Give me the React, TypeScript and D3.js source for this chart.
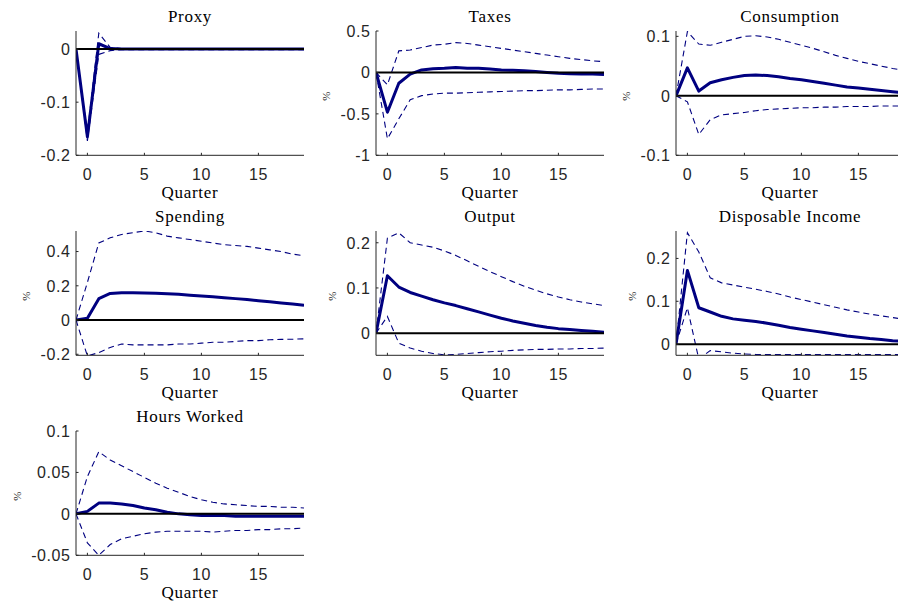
import React from 'react';
import * as d3 from 'd3';

// ---------- DATA ----------
const quarters = [-1, 0, 1, 2, 3, 4, 5, 6, 7, 8, 9, 10, 11, 12, 13, 14, 15, 16, 17, 18, 19];
const xTicks = [0, 5, 10, 15];

const proxyMid = [0, -0.165, 0.01, 0.001, 0, 0, 0, 0, 0, 0, 0, 0, 0, 0, 0, 0, 0, 0, 0, 0, 0];
const proxyHi = [0, -0.158, 0.03, 0.003, 0.001, 0.001, 0.001, 0.001, 0.001, 0.001, 0.001, 0.001, 0.001, 0.001, 0.001, 0.001, 0.001, 0.001, 0.001, 0.001, 0.001];
const proxyLo = [0, -0.173, -0.01, -0.003, -0.001, -0.001, -0.001, -0.001, -0.001, -0.001, -0.001, -0.001, -0.001, -0.001, -0.001, -0.001, -0.001, -0.001, -0.001, -0.001, -0.001];

const taxesMid = [0, -0.48, -0.13, -0.02, 0.03, 0.045, 0.05, 0.06, 0.05, 0.05, 0.04, 0.03, 0.025, 0.02, 0.01, 0.0, -0.01, -0.015, -0.02, -0.02, -0.025];
const taxesHi = [0, -0.15, 0.26, 0.27, 0.3, 0.33, 0.34, 0.36, 0.35, 0.33, 0.31, 0.29, 0.27, 0.25, 0.23, 0.21, 0.19, 0.17, 0.155, 0.14, 0.13];
const taxesLo = [0, -0.8, -0.56, -0.33, -0.28, -0.26, -0.25, -0.25, -0.245, -0.24, -0.235, -0.23, -0.225, -0.22, -0.22, -0.215, -0.21, -0.21, -0.205, -0.2, -0.2];

const consMid = [0, 0.047, 0.008, 0.022, 0.027, 0.031, 0.034, 0.035, 0.034, 0.032, 0.029, 0.027, 0.024, 0.021, 0.018, 0.015, 0.013, 0.011, 0.009, 0.007, 0.005];
const consHi = [0, 0.108, 0.087, 0.085, 0.09, 0.095, 0.1, 0.101, 0.099, 0.095, 0.09, 0.085, 0.08, 0.074, 0.068, 0.063, 0.058, 0.054, 0.05, 0.046, 0.043];
const consLo = [0, -0.01, -0.065, -0.04, -0.032, -0.03, -0.028, -0.025, -0.023, -0.022, -0.021, -0.02, -0.02, -0.019, -0.019, -0.018, -0.018, -0.018, -0.017, -0.017, -0.017];

const spendMid = [0, 0.01, 0.125, 0.155, 0.16, 0.16, 0.158, 0.157, 0.153, 0.15, 0.145, 0.14, 0.136, 0.13, 0.125, 0.12, 0.113, 0.107, 0.1, 0.093, 0.087];
const spendHi = [0, 0.22, 0.45, 0.48, 0.5, 0.51, 0.52, 0.51, 0.49, 0.48, 0.47, 0.46, 0.45, 0.44, 0.435, 0.43, 0.42, 0.41, 0.4, 0.385, 0.375];
const spendLo = [0, -0.21, -0.19, -0.16, -0.14, -0.145, -0.145, -0.145, -0.145, -0.14, -0.14, -0.135, -0.13, -0.13, -0.125, -0.12, -0.12, -0.115, -0.113, -0.112, -0.11];

const outMid = [0, 0.127, 0.102, 0.09, 0.082, 0.074, 0.067, 0.061, 0.054, 0.047, 0.04, 0.033, 0.027, 0.022, 0.017, 0.013, 0.01, 0.008, 0.006, 0.004, 0.002];
const outHi = [0, 0.21, 0.222, 0.2, 0.195, 0.19, 0.182, 0.172, 0.16, 0.148, 0.136, 0.125, 0.114, 0.104, 0.095, 0.087, 0.08, 0.074, 0.069, 0.065, 0.061];
const outLo = [0, 0.037, -0.022, -0.033, -0.04, -0.045, -0.048, -0.047, -0.045, -0.043, -0.041, -0.04, -0.038, -0.037, -0.036, -0.036, -0.035, -0.035, -0.034, -0.034, -0.033];

const dispMid = [0, 0.172, 0.085, 0.075, 0.065, 0.059, 0.056, 0.053, 0.049, 0.044, 0.039, 0.035, 0.031, 0.027, 0.023, 0.019, 0.016, 0.013, 0.011, 0.008, 0.007];
const dispHi = [0, 0.26, 0.215, 0.155, 0.143, 0.138, 0.133, 0.128, 0.123, 0.117, 0.11, 0.104, 0.098, 0.092, 0.086, 0.08, 0.075, 0.07, 0.066, 0.062, 0.058];
const dispLo = [0, 0.085, -0.035, -0.015, -0.018, -0.021, -0.023, -0.024, -0.024, -0.024, -0.024, -0.024, -0.024, -0.024, -0.024, -0.024, -0.024, -0.024, -0.024, -0.024, -0.024];

const hoursMid = [0, 0.003, 0.013, 0.013, 0.012, 0.01, 0.007, 0.005, 0.002, 0.0, -0.001, -0.002, -0.002, -0.002, -0.003, -0.003, -0.003, -0.003, -0.003, -0.003, -0.003];
const hoursHi = [0, 0.045, 0.075, 0.065, 0.058, 0.051, 0.044, 0.037, 0.031, 0.026, 0.021, 0.017, 0.014, 0.012, 0.011, 0.01, 0.009, 0.009, 0.008, 0.008, 0.007];
const hoursLo = [0, -0.035, -0.05, -0.037, -0.03, -0.027, -0.024, -0.022, -0.021, -0.021, -0.021, -0.021, -0.022, -0.021, -0.02, -0.02, -0.019, -0.019, -0.018, -0.018, -0.017];

const titles = ['Proxy', 'Taxes', 'Consumption', 'Spending', 'Output', 'Disposable Income', 'Hours Worked'];
const yLimits: [number, number][] = [
  [-0.2, 0.034], [-1, 0.5], [-0.1, 0.109],
  [-0.206, 0.52], [-0.049, 0.226], [-0.026, 0.264],
  [-0.05, 0.1],
];
const yTickValues = [
  [-0.2, -0.1, 0], [-1, -0.5, 0, 0.5], [-0.1, 0, 0.1],
  [-0.2, 0, 0.2, 0.4], [0, 0.1, 0.2], [0, 0.1, 0.2],
  [-0.05, 0, 0.05, 0.1],
];
const showPercent = [false, true, true, true, true, true, true];
const mids = [proxyMid, taxesMid, consMid, spendMid, outMid, dispMid, hoursMid];
const his = [proxyHi, taxesHi, consHi, spendHi, outHi, dispHi, hoursHi];
const los = [proxyLo, taxesLo, consLo, spendLo, outLo, dispLo, hoursLo];

// ---------- LAYOUT ----------
const W = 898, H = 605;
const colLeft = [76, 376, 676];
const rowTop = [31, 231, 431];
const PW = 228, PH = 124.3;
const NAVY = '#000080';
const AX = '#262626';
const SANS = 'Liberation Sans';
const SERIF = 'Liberation Serif';

const charW: Record<string, number> = { '-': 0.333, '.': 0.278 };
const labelWidth = (s: string, fs: number, ls: number) =>
  s.split('').reduce((a, c) => a + (charW[c] ?? 0.556) * fs + ls, 0);

function Panel({ i }: { i: number }) {
  const left = colLeft[i % 3];
  const top = rowTop[Math.floor(i / 3)];
  const x = d3.scaleLinear().domain([-1, 19]).range([left, left + PW]);
  const y = d3.scaleLinear().domain(yLimits[i]).range([top + PH, top]);
  const line = d3.line<number>().x((_, k) => x(quarters[k])).y((d) => y(d));
  const clipId = `clip-${i}`;
  const bottom = top + PH;
  const labels = yTickValues[i].map((v) => String(v));
  const maxW = Math.max(...labels.map((s) => labelWidth(s, 16, 0.6)));
  return (
    <g>
      <defs>
        <clipPath id={clipId}>
          <rect x={left} y={top} width={PW} height={PH} />
        </clipPath>
      </defs>
      <text x={left + PW / 2} y={top - 9} textAnchor="middle" fontFamily={SERIF} fontSize={17} letterSpacing={0.7} fill="#000">
        {titles[i]}
      </text>
      <g clipPath={`url(#${clipId})`}>
        <path d={line(his[i]) || ''} fill="none" stroke={NAVY} strokeWidth={1.1} strokeDasharray="6,4" />
        <path d={line(los[i]) || ''} fill="none" stroke={NAVY} strokeWidth={1.1} strokeDasharray="6,4" />
        <path d={line(mids[i]) || ''} fill="none" stroke={NAVY} strokeWidth={3} strokeLinejoin="round" />
        <line x1={x(-1)} x2={x(19)} y1={y(0)} y2={y(0)} stroke="#000" strokeWidth={2} />
      </g>
      <line x1={left} x2={left} y1={top} y2={bottom} stroke={AX} strokeWidth={1} />
      <line x1={left} x2={left + PW} y1={bottom} y2={bottom} stroke={AX} strokeWidth={1} />
      {xTicks.map((t) => (
        <g key={`x${t}`}>
          <line x1={x(t)} x2={x(t)} y1={bottom} y2={bottom - 2.5} stroke={AX} strokeWidth={1} />
          <text x={x(t)} y={bottom + 24.5} textAnchor="middle" fontFamily={SANS} fontSize={16} letterSpacing={0.6} fill={AX}>
            {String(t)}
          </text>
        </g>
      ))}
      {yTickValues[i].map((t, k) => (
        <g key={`y${t}`}>
          <line x1={left} x2={left + 2.5} y1={y(t)} y2={y(t)} stroke={AX} strokeWidth={1} />
          <text x={left - 5.4} y={y(t)} dy="0.36em" textAnchor="end" fontFamily={SANS} fontSize={16} letterSpacing={0.6} fill={AX}>
            {labels[k]}
          </text>
        </g>
      ))}
      <text x={left + PW / 2} y={bottom + 43} textAnchor="middle" fontFamily={SERIF} fontSize={17} letterSpacing={0.7} fill="#000">
        Quarter
      </text>
      {showPercent[i] && (
        <text
          transform={`translate(${left - maxW - 16},${top + PH / 2 + 3}) rotate(-90)`}
          textAnchor="middle"
          fontFamily={SERIF}
          fontSize={11}
          fill={AX}
        >
          %
        </text>
      )}
    </g>
  );
}

export default function App() {
  return (
    <svg width={W} height={H} style={{ position: 'absolute', left: 0, top: 0, background: '#fff' }}>
      <rect width={W} height={H} fill="#fff" />
      {titles.map((_, i) => (
        <Panel key={i} i={i} />
      ))}
    </svg>
  );
}
